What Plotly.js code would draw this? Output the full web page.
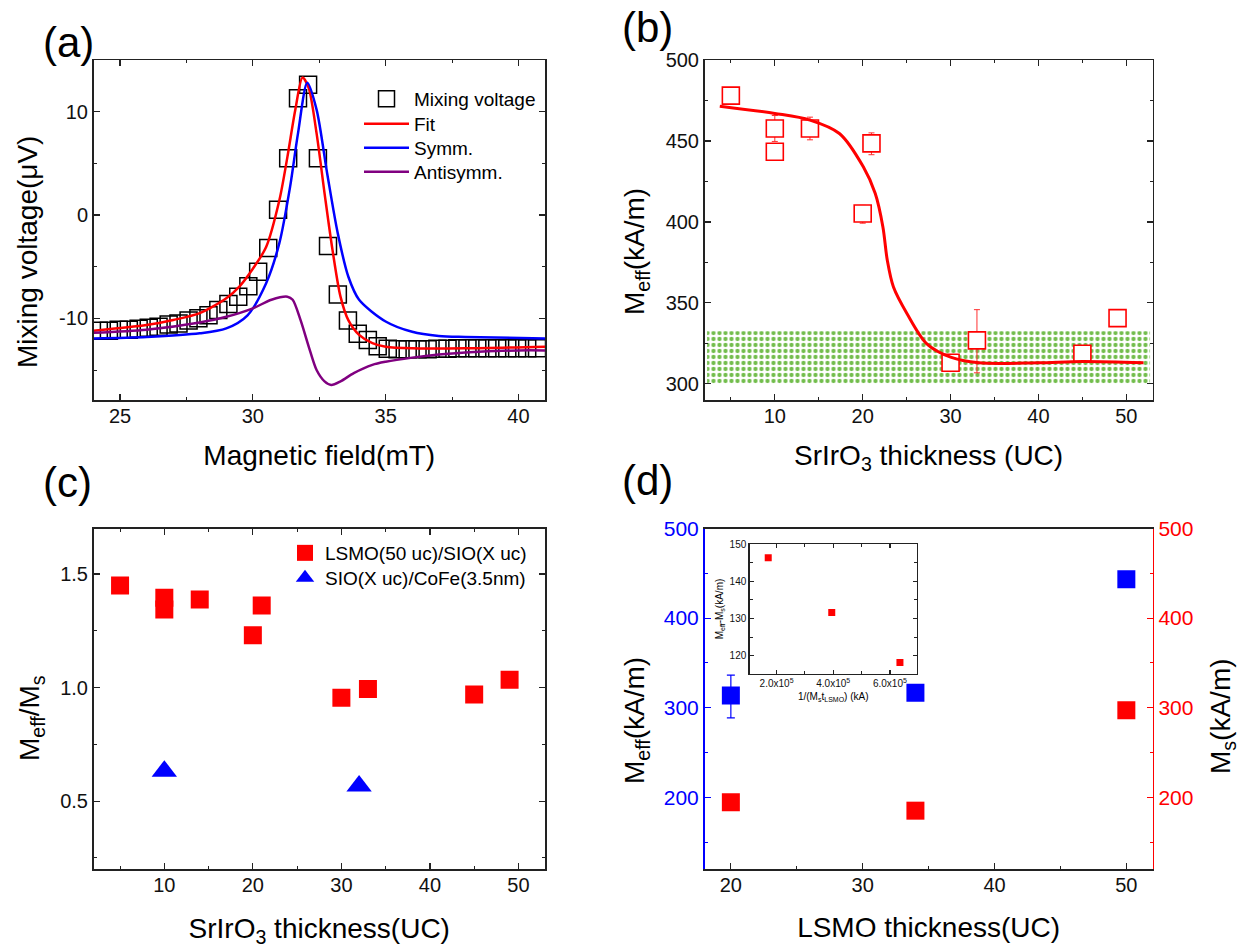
<!DOCTYPE html>
<html><head><meta charset="utf-8">
<script src="https://cdn.plot.ly/plotly-3.0.1.min.js"></script>
<style>html,body{margin:0;padding:0;background:#fff}#chart{width:1241px;height:948px}</style>
</head><body><div id="chart"></div>
<script>
// ---------- (a) mixing voltage spectrum ----------
const fieldMT = [24.20,24.58,24.95,25.33,25.70,26.08,26.45,26.83,27.20,27.58,27.95,28.33,28.70,29.08,29.45,29.83,30.20,30.58,30.95,31.33,31.70,32.08,32.45,32.83,33.20,33.58,33.95,34.33,34.70,35.08,35.45,35.83,36.20,36.58,36.95,37.33,37.70,38.08,38.45,38.83,39.20,39.58,39.95,40.33,40.70];
const mixV = [-11.2,-11.2,-11.1,-11.1,-11.0,-10.9,-10.8,-10.6,-10.5,-10.2,-10.0,-9.7,-9.2,-8.6,-7.9,-6.9,-5.5,-3.2,0.5,5.5,11.3,12.6,5.5,-3.0,-7.7,-10.2,-11.5,-12.1,-12.7,-12.95,-13.0,-13.0,-13.0,-13.0,-12.95,-12.95,-12.9,-12.9,-12.9,-12.9,-12.9,-12.9,-12.9,-12.9,-12.9];
const fitX = [24,26,27,28,29,29.5,30,30.5,31,31.3,31.6,31.87,32.1,32.4,32.7,33.0,33.3,33.6,34,34.5,35,36,38,41];
const fitY = [-11.2,-10.65,-10.16,-9.5,-8.06,-6.9,-5.2,-3.1,1.45,5.6,10.2,13.3,12.3,7.9,2.1,-3.4,-7.9,-10.2,-11.6,-12.4,-12.74,-12.9,-12.9,-12.74];
const symX = [24,26,28,29,29.8,30.5,31,31.4,31.7,32.05,32.4,32.8,33.2,33.6,34,35,36,37,38,41];
const symY = [-11.94,-11.8,-11.45,-10.97,-9.7,-6.6,-2.7,2.7,7.9,12.8,10.2,4.0,-1.8,-6.0,-8.2,-10.3,-11.3,-11.7,-11.8,-11.94];
const antiX = [24,26,28,29,30,30.7,31.3,31.5,31.8,32.1,32.4,32.7,32.95,33.3,33.8,34.5,35,36,37,38,40,41];
const antiY = [-11.4,-11.1,-10.4,-9.85,-9.03,-8.2,-7.9,-8.2,-10.2,-12.7,-15.0,-16.1,-16.45,-16.1,-15.3,-14.5,-14.2,-13.8,-13.5,-13.3,-13.1,-13.1];

// ---------- (b) Meff vs SrIrO3 thickness ----------
const sioUC = [5,10,10,14,20,21,30,33,45,49];
const meffB = [478,457.7,443.3,457.7,405.2,448.5,313,326.8,318.6,340.6];
const meffErrPlus = [4.7,8,4,7,5,6.5,3.5,19,3.5,5];
const meffErrMinus = [5.5,8,4.5,7,6,7,3,20,3,5];
const bFitX = [3.74,10,14,17.35,20.07,21.43,22.3,22.8,23.5,25.05,27.3,30,33.2,40,45,51.95];
const bFitY = [471.5,467,462.9,454.6,434,417.5,396.9,376.3,359.8,343.3,324.7,316.5,313,313,313.8,313];
const bandX = [2.3,52.7,52.7,2.3,2.3];
const bandY = [300,300,332.5,332.5,300];

// ---------- (c) Meff/Ms ----------
const lsmoSioX = [5,10,10,14,20,21,30,33,45,49];
const lsmoSioRatio = [1.449,1.395,1.344,1.387,1.230,1.361,0.955,0.994,0.969,1.034];
const sioCofeX = [10,32];
const sioCofeRatio = [0.632,0.567];

// ---------- (d) LSMO thickness ----------
const lsmoUC = [20,34,50];
const meffD = [313.6,316.6,443.3];
const meffDErrPlus = [22.8,0,0];
const meffDErrMinus = [24.9,0,0];
const msD = [194.4,185.1,297.3];
const insetX = [1.705e5,3.947e5,6.354e5];
const insetY = [146.3,131.6,118.2];

const FONT = 'Liberation Sans, Arial, Helvetica, sans-serif';
const LC = '#222';
const base = {showline:true, linecolor:LC, linewidth:1.5, mirror:'ticks', ticks:'inside', ticklen:6, tickwidth:1.2, tickcolor:LC,
  showgrid:false, zeroline:false, tickfont:{size:20, color:'#111', family:FONT}, automargin:false};
function ax(o){ return Object.assign({}, base, o); }
function mn(t0, d, col){ return {tickmode:'linear', tick0:t0, dtick:d, ticks:'inside', ticklen:3, tickwidth:1, tickcolor:col||LC, showgrid:false}; }
const TF = {size:28, color:'#000', family:FONT};
const LF = {size:19, family:FONT, color:'#000'};

const traces = [
  {x:fieldMT, y:mixV, mode:'markers', name:'Mixing voltage', xaxis:'x', yaxis:'y', legend:'legend',
   marker:{symbol:'square-open', size:17, color:'#000', line:{width:1.5, color:'#000'}}},
  {x:fitX, y:fitY, mode:'lines', name:'Fit', xaxis:'x', yaxis:'y', legend:'legend3', line:{color:'#ff0000', width:2.5, shape:'spline', smoothing:0.8}},
  {x:symX, y:symY, mode:'lines', name:'Symm.', xaxis:'x', yaxis:'y', legend:'legend4', line:{color:'#0000ff', width:2.5, shape:'spline', smoothing:0.8}},
  {x:antiX, y:antiY, mode:'lines', name:'Antisymm.', xaxis:'x', yaxis:'y', legend:'legend5', line:{color:'#800080', width:2.5, shape:'spline', smoothing:0.8}},

  {x:bandX, y:bandY, mode:'lines', fill:'toself', xaxis:'x2', yaxis:'y2', showlegend:false, hoverinfo:'skip',
   line:{width:0, color:'rgba(0,0,0,0)'}, fillcolor:'rgba(255,255,255,0)',
   fillpattern:{shape:'.', fgcolor:'#72bd4c', bgcolor:'rgba(255,255,255,0)', size:6, solidity:0.4}},
  {x:sioUC, y:meffB, mode:'markers', xaxis:'x2', yaxis:'y2', showlegend:false,
   marker:{symbol:'square', size:17, color:'#ffffff', line:{width:1.6, color:'#ff0000'}},
   error_y:{type:'data', symmetric:false, array:meffErrPlus, arrayminus:meffErrMinus, color:'#ff3030', thickness:1, width:3}},
  {x:bFitX, y:bFitY, mode:'lines', xaxis:'x2', yaxis:'y2', showlegend:false, line:{color:'#ff0000', width:3, shape:'spline', smoothing:0.9}},

  {x:lsmoSioX, y:lsmoSioRatio, mode:'markers', name:'LSMO(50 uc)/SIO(X uc)', xaxis:'x3', yaxis:'y3', legend:'legend2',
   marker:{symbol:'square', size:18, color:'#ff0000'}},
  {x:sioCofeX, y:sioCofeRatio, mode:'markers', name:'SIO(X uc)/CoFe(3.5nm)', xaxis:'x3', yaxis:'y3', legend:'legend6',
   marker:{symbol:'triangle-up', size:22, color:'#0000ff'}},

  {x:lsmoUC, y:meffD, mode:'markers', xaxis:'x4', yaxis:'y4', showlegend:false,
   marker:{symbol:'square', size:18, color:'#0000ff'},
   error_y:{type:'data', symmetric:false, array:meffDErrPlus, arrayminus:meffDErrMinus, color:'#0000ff', thickness:1.2, width:4}},
  {x:lsmoUC, y:msD, mode:'markers', xaxis:'x4', yaxis:'y5', showlegend:false,
   marker:{symbol:'square', size:18, color:'#ff0000'}},
  {x:insetX, y:insetY, mode:'markers', xaxis:'x5', yaxis:'y6', showlegend:false,
   marker:{symbol:'square', size:7, color:'#ff0000'}}
];

const W = 1241, H = 948;
const dx = (a,b)=>[a/W, b/W];
const dy = (top,bot)=>[(H-bot)/H, (H-top)/H];
const px = v => v/W, py = v => 1 - v/H;

function leg(xp, yp, iw){
  return {x:px(xp), y:py(yp), xanchor:'left', yanchor:'middle', bgcolor:'rgba(0,0,0,0)', borderwidth:0, itemwidth:iw, font:LF, tracegroupgap:0};
}
function ann(text, xp, yp, size, angle){
  return {text:text, x:px(xp), y:py(yp), xref:'paper', yref:'paper', xanchor:'center', yanchor:'middle', showarrow:false,
    textangle:angle||0, font:{size:size, family:FONT, color:'#000'}};
}

const layout = {
  width:W, height:H, margin:{l:0,r:0,t:0,b:0}, paper_bgcolor:'#fff', plot_bgcolor:'rgba(0,0,0,0)',
  font:{family:FONT, color:'#000'}, showlegend:true,
  xaxis: ax({domain:dx(93.5,545), anchor:'y', range:[24,41], tickmode:'array', tickvals:[25,30,35,40], minor:mn(25,2.5), ticklabelstandoff:-3,
    title:{text:'Magnetic field(mT)', font:TF, standoff:20}}),
  yaxis: ax({domain:dy(60,400), anchor:'x', range:[-17.9,15], tickmode:'array', tickvals:[-10,0,10], ticktext:['-10','0','10'], minor:mn(0,5)}),
  xaxis2: ax({domain:dx(704.5,1152.7), anchor:'y2', range:[2,53], tickmode:'linear', tick0:0, dtick:10, minor:mn(0,5), ticklabelstandoff:-3,
    title:{text:'SrIrO<sub>3</sub> thickness (UC)', font:TF, standoff:20}}),
  yaxis2: ax({domain:dy(60,400), anchor:'x2', range:[290,500], tickmode:'linear', tick0:300, dtick:50, minor:mn(300,25)}),
  xaxis3: ax({domain:dx(93.5,545), anchor:'y3', range:[2,53], tickmode:'linear', tick0:0, dtick:10, minor:mn(0,5), ticklabelstandoff:-3,
    title:{text:'SrIrO<sub>3</sub> thickness(UC)', font:TF, standoff:24}}),
  yaxis3: ax({domain:dy(528.5,869.3), anchor:'x3', range:[0.2,1.7], tickmode:'linear', tick0:0.5, dtick:0.5, tickformat:'.1f', minor:mn(0.25,0.25)}),
  xaxis4: ax({domain:dx(704.5,1152.7), anchor:'y4', range:[18,52], tickmode:'linear', tick0:0, dtick:10, minor:mn(0,5), mirror:true, ticklabelstandoff:-3,
    title:{text:'LSMO thickness(UC)', font:TF, standoff:23}}),
  yaxis4: ax({domain:dy(528.5,869), anchor:'x4', range:[120,500], tickmode:'linear', tick0:0, dtick:100, minor:mn(0,50,'#0000ff'),
    mirror:false, linecolor:'#0000ff', tickcolor:'#0000ff', tickfont:{size:21, color:'#0000ff', family:FONT}}),
  yaxis5: ax({overlaying:'y4', side:'right', anchor:'x4', range:[120,500], tickmode:'linear', tick0:0, dtick:100, minor:mn(0,50,'#ff0000'),
    mirror:false, linecolor:'#ff0000', tickcolor:'#ff0000', tickfont:{size:21, color:'#ff0000', family:FONT}}),
  xaxis5: ax({domain:dx(749.5,917), anchor:'y6', range:[1.044e5,6.956e5], tickmode:'array', tickvals:[2e5,4e5,6e5],
    ticktext:['2.0x10<sup>5</sup>','4.0x10<sup>5</sup>','6.0x10<sup>5</sup>'], minor:mn(0,1e5), ticklen:4, linewidth:1.2,
    tickfont:{size:10, color:'#111', family:FONT},
    title:{text:'1/(M<sub>s</sub>t<sub>LSMO</sub>) (kA)', font:{size:10, color:'#000', family:FONT}, standoff:4}}),
  yaxis6: ax({domain:dy(544,674), anchor:'x5', range:[115.1,150], tickmode:'linear', tick0:120, dtick:10, minor:mn(0,5), ticklen:4, linewidth:1.2,
    tickfont:{size:10, color:'#111', family:FONT},
    title:{text:'M<sub>eff</sub>-M<sub>s</sub>(kA/m)', font:{size:10, color:'#000', family:FONT}, standoff:4}}),
  legend: leg(359, 99, 45),
  legend3: leg(359, 124, 45),
  legend4: leg(359, 148, 45),
  legend5: leg(359, 172, 45),
  legend2: leg(285, 553, 30),
  legend6: leg(285, 578, 30),
  annotations: [
    ann('(a)', 68, 42, 42), ann('(b)', 647, 28, 42), ann('(c)', 67, 482, 42), ann('(d)', 647, 481, 42),
    ann('Mixing voltage(\u03bcV)', 28, 252, 28, -90),
    ann('M<sub>eff</sub>(kA/m)', 637, 252, 28, -90),
    ann('M<sub>eff</sub>/M<sub>s</sub>', 31, 718, 28, -90),
    ann('M<sub>eff</sub>(kA/m)', 636, 721, 28, -90),
    ann('M<sub>s</sub>(kA/m)', 1222, 716, 28, -90)
  ]
};

Plotly.newPlot('chart', traces, layout, {staticPlot:true, displayModeBar:false});
</script></body></html>
